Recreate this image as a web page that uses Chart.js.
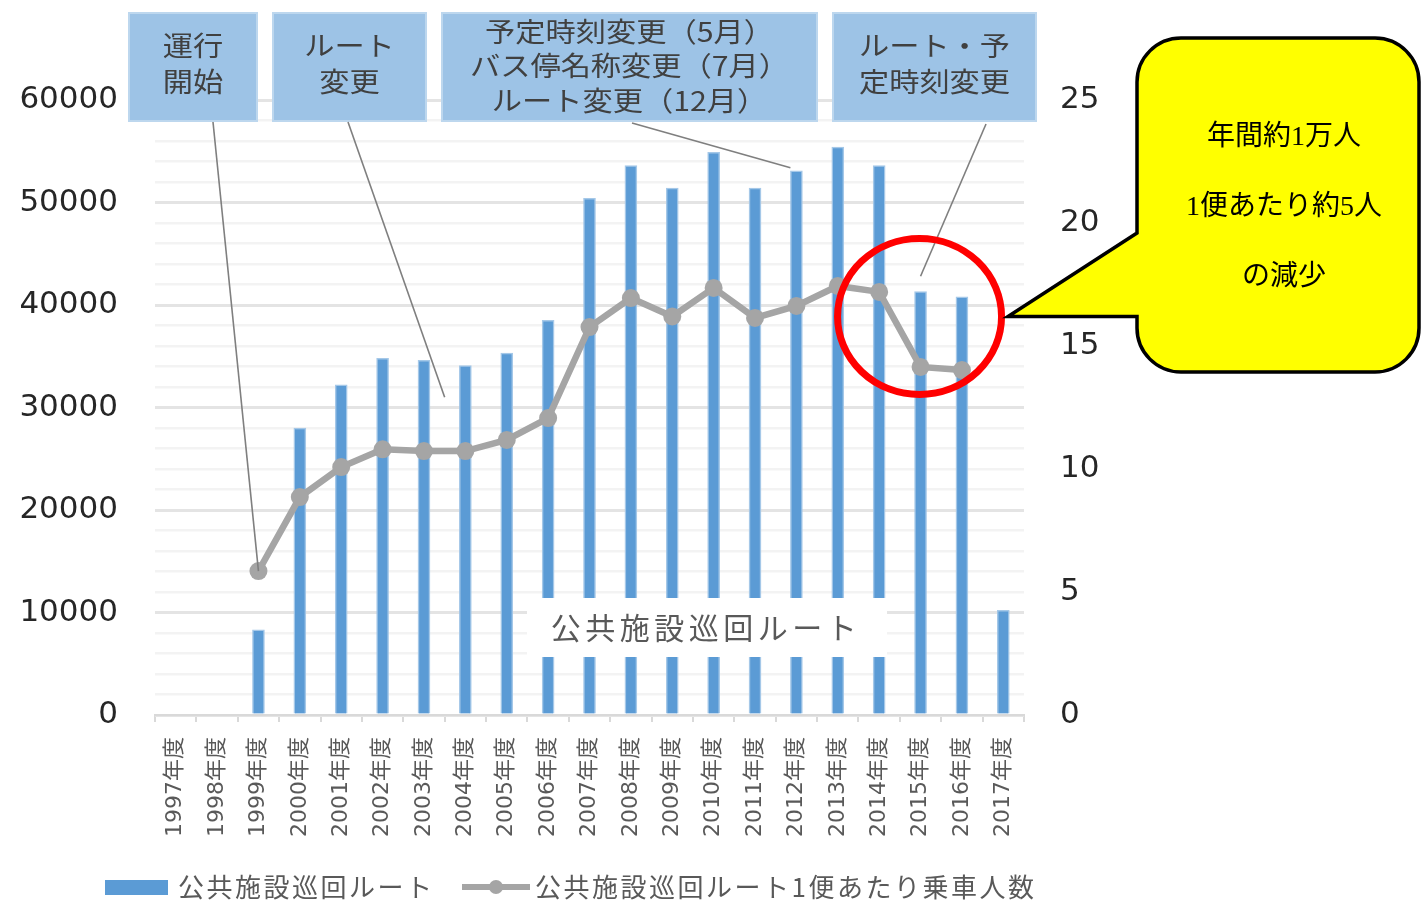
<!DOCTYPE html>
<html>
<head>
<meta charset="utf-8">
<script src="https://cdn.jsdelivr.net/npm/chart.js@4.4.1/dist/chart.umd.min.js"></script>
<style>
  html, body { margin: 0; padding: 0; background: #ffffff; }
  #wrap { width: 1421px; height: 902px; position: relative; }
</style>
</head>
<body>
<div id="wrap"><canvas id="c" width="1421" height="902"></canvas></div>
<script>
// ---- data ----
const categories = ['1997年度','1998年度','1999年度','2000年度','2001年度','2002年度','2003年度','2004年度','2005年度','2006年度','2007年度','2008年度','2009年度','2010年度','2011年度','2012年度','2013年度','2014年度','2015年度','2016年度','2017年度'];
const riders = [null, null, 8300, 28000, 32200, 34800, 34600, 34100, 35300, 38500, 50400, 53600, 51400, 54900, 51400, 53100, 55400, 53600, 41300, 40800, 10200];
const perTrip = [null, null, 5.85, 8.86, 10.08, 10.8, 10.73, 10.73, 11.18, 12.07, 15.77, 16.95, 16.2, 17.36, 16.14, 16.63, 17.44, 17.2, 14.15, 14.02, null];
const leftTicks = [0, 10000, 20000, 30000, 40000, 50000, 60000];
const rightTicks = [0, 5, 10, 15, 20, 25];
const seriesNames = ['公共施設巡回ルート', '公共施設巡回ルート1便あたり乗車人数'];
const dataLabelText = '公共施設巡回ルート';
const notes = [
  { lines: ['運行', '開始'] },
  { lines: ['ルート', '変更'] },
  { lines: ['予定時刻変更（5月）', 'バス停名称変更（7月）', 'ルート変更（12月）'] },
  { lines: ['ルート・予', '定時刻変更'] }
];
const calloutLines = ['年間約1万人', '1便あたり約5人', 'の減少'];

const BLUE = '#5B9BD5';
const GRAY = '#A5A5A5';
const CJK = '"Noto Sans CJK JP"';

function stretchText(ctx, text, x, y, sx) {
  ctx.save();
  ctx.translate(x, y);
  ctx.scale(sx, 1);
  ctx.fillText(text, 0, 0);
  ctx.restore();
}

const overlay = {
  id: 'overlay',
  afterDraw(chart) {
    const ctx = chart.ctx;
    const xs = chart.scales.x, yl = chart.scales.y, yr = chart.scales.y1;
    ctx.save();

    // data label box (white) covering bars
    ctx.fillStyle = '#ffffff';
    ctx.fillRect(527, 598, 360, 59);
    ctx.fillStyle = '#595959';
    ctx.font = '30px ' + CJK;
    ctx.textAlign = 'center';
    ctx.textBaseline = 'middle';
    try { ctx.letterSpacing = '4.5px'; } catch(e) {}
    ctx.fillText(dataLabelText, 706, 628);
    try { ctx.letterSpacing = '0px'; } catch(e) {}

    // annotation boxes
    const boxes = [
      { x: 128, y: 12, w: 130, h: 110 },
      { x: 272, y: 12, w: 155, h: 110 },
      { x: 441, y: 12, w: 377, h: 110 },
      { x: 832, y: 12, w: 205, h: 110 }
    ];
    boxes.forEach((b, i) => {
      ctx.fillStyle = '#9DC3E6';
      ctx.fillRect(b.x, b.y, b.w, b.h);
      ctx.strokeStyle = '#BDD7EE';
      ctx.lineWidth = 2;
      ctx.strokeRect(b.x + 1, b.y + 1, b.w - 2, b.h - 2);
      ctx.fillStyle = '#404040';
      ctx.font = '27px ' + CJK;
      ctx.textAlign = 'center';
      ctx.textBaseline = 'middle';
      const lines = notes[i].lines;
      const lh = lines.length === 3 ? 34.5 : 36;
      const cy = b.y + b.h / 2 + (lines.length === 3 ? -1 : -3);
      lines.forEach((t, k) => {
        stretchText(ctx, t, b.x + b.w / 2, cy + (k - (lines.length - 1) / 2) * lh, 1.12);
      });
    });

    // leader lines
    ctx.strokeStyle = '#7F7F7F';
    ctx.lineWidth = 1.6;
    const leaders = [
      [213, 122, xs.getPixelForValue(2), yr.getPixelForValue(perTrip[2])],
      [348, 122, (xs.getPixelForValue(6) + xs.getPixelForValue(7)) / 2, yl.getPixelForValue(31000)],
      [632, 123, xs.getPixelForValue(15) - 6, yl.getPixelForValue(riders[15] + 300)],
      [986, 124, xs.getPixelForValue(18), yl.getPixelForValue(42800)]
    ];
    leaders.forEach(l => {
      ctx.beginPath();
      ctx.moveTo(l[0], l[1]);
      ctx.lineTo(l[2], l[3]);
      ctx.stroke();
    });

    // red ellipse
    const ex = xs.getPixelForValue(18) - 1;
    const ey = yr.getPixelForValue(16.2);
    ctx.strokeStyle = '#FF0000';
    ctx.lineWidth = 7;
    ctx.beginPath();
    ctx.ellipse(ex, ey, 82, 78, 0, 0, Math.PI * 2);
    ctx.stroke();

    // yellow callout
    const L = 1137, T = 38, R = 1419, B = 372, r = 44;
    const tipX = 1008, tipY = ey;
    ctx.beginPath();
    ctx.moveTo(L + r, T);
    ctx.lineTo(R - r, T);
    ctx.arcTo(R, T, R, T + r, r);
    ctx.lineTo(R, B - r);
    ctx.arcTo(R, B, R - r, B, r);
    ctx.lineTo(L + r, B);
    ctx.arcTo(L, B, L, B - r, r);
    ctx.lineTo(L, tipY);
    ctx.lineTo(tipX, tipY);
    ctx.lineTo(L, 233);
    ctx.lineTo(L, T + r);
    ctx.arcTo(L, T, L + r, T, r);
    ctx.closePath();
    ctx.fillStyle = '#FFFF00';
    ctx.fill();
    ctx.strokeStyle = '#000000';
    ctx.lineWidth = 3.5;
    ctx.lineJoin = 'miter';
    ctx.stroke();
    ctx.fillStyle = '#000000';
    ctx.font = '28px "Liberation Serif", ' + CJK;
    ctx.textAlign = 'center';
    ctx.textBaseline = 'middle';
    calloutLines.forEach((t, k) => ctx.fillText(t, 1284, 138 + k * 70));

    // legend
    ctx.fillStyle = BLUE;
    ctx.fillRect(105, 880, 63, 15);
    ctx.fillStyle = '#595959';
    ctx.font = '26px ' + CJK;
    ctx.textAlign = 'left';
    ctx.textBaseline = 'middle';
    try { ctx.letterSpacing = '2.5px'; } catch(e) {}
    ctx.fillText(seriesNames[0], 178, 887);
    ctx.strokeStyle = GRAY;
    ctx.lineWidth = 6;
    ctx.beginPath();
    ctx.moveTo(462, 887);
    ctx.lineTo(530, 887);
    ctx.stroke();
    ctx.fillStyle = GRAY;
    ctx.beginPath();
    ctx.arc(496, 887, 7, 0, Math.PI * 2);
    ctx.fill();
    ctx.fillStyle = '#595959';
    ctx.fillText(seriesNames[1], 535, 887);
    try { ctx.letterSpacing = '0px'; } catch(e) {}

    ctx.restore();
  }
};

new Chart(document.getElementById('c'), {
  type: 'bar',
  data: {
    labels: categories,
    datasets: [
      {
        type: 'line',
        label: seriesNames[1],
        data: perTrip,
        yAxisID: 'y1',
        borderColor: GRAY,
        backgroundColor: GRAY,
        borderWidth: 6.5,
        pointRadius: 9,
        pointHoverRadius: 9,
        pointBackgroundColor: GRAY,
        pointBorderWidth: 0,
        tension: 0,
        order: 0
      },
      {
        type: 'bar',
        label: seriesNames[0],
        data: riders,
        yAxisID: 'y',
        backgroundColor: BLUE,
        borderColor: 'rgba(155,194,230,0.9)',
        borderWidth: { left: 1.5, right: 1.5, top: 1.5, bottom: 0 },
        barThickness: 12,
        order: 1
      }
    ]
  },
  options: {
    responsive: false,
    devicePixelRatio: 1,
    animation: false,
    layout: { padding: { top: 100, left: 0, right: 0, bottom: 0 } },
    plugins: { legend: { display: false }, tooltip: { enabled: false } },
    scales: {
      x: {
        offset: true,
        grid: { drawOnChartArea: false, drawTicks: true, tickLength: 7, color: '#D9D9D9', lineWidth: 2, offset: true },
        border: { display: true, color: '#D9D9D9', width: 2 },
        ticks: {
          minRotation: 90, maxRotation: 90, autoSkip: false, padding: 15,
          color: '#595959',
          font: { family: '"DejaVu Sans", ' + CJK, size: 22 }
        },
        afterFit(s) { s.height = 187; }
      },
      y: {
        position: 'left',
        min: 0, max: 60000,
        afterBuildTicks(s) {
          const t = [];
          for (let v = 0; v <= 60000; v += 2000) t.push({ value: v });
          s.ticks = t;
        },
        grid: {
          drawTicks: false,
          color: c => (c.tick && c.tick.value % 10000 === 0) ? '#E4E4E4' : '#F3F3F3',
          lineWidth: c => (c.tick && c.tick.value % 10000 === 0) ? 3 : 2.5
        },
        border: { display: false },
        ticks: {
          autoSkip: false,
          padding: 37,
          color: '#262626',
          font: { family: '"DejaVu Sans"', size: 31 },
          callback: v => leftTicks.includes(v) ? String(v) : ''
        },
        afterFit(s) { s.width = 155; }
      },
      y1: {
        position: 'right',
        min: 0, max: 25,
        afterBuildTicks(s) { s.ticks = rightTicks.map(v => ({ value: v })); },
        grid: { drawOnChartArea: false, drawTicks: false },
        border: { display: false },
        ticks: {
          padding: 36,
          color: '#262626',
          font: { family: '"DejaVu Sans"', size: 31 },
          callback: v => String(v)
        },
        afterFit(s) { s.width = 397; }
      }
    }
  },
  plugins: [overlay]
});
</script>
</body>
</html>
